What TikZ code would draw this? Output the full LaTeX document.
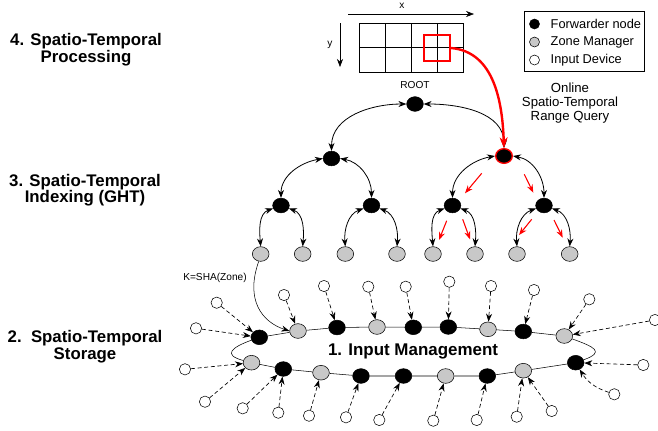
\documentclass[tikz,border=0pt]{standalone}
\usepackage{fontspec}
\setmainfont{Liberation Sans}
\usetikzlibrary{arrows.meta, shapes.geometric, positioning}

\definecolor{zonegray}{RGB}{200,200,200}

\begin{document}
\begin{tikzpicture}[x=0.75pt, y=-0.75pt,
    >={Stealth[length=6pt, width=4.5pt]},
    fwd/.style={ellipse, draw, fill=black, inner sep=0pt, minimum width=12.5pt, minimum height=11pt},
    zone/.style={fwd, fill=zonegray},
    dev/.style={circle, draw, fill=white, inner sep=0pt, minimum size=8.5pt},
    tlink/.style={<->, line width=0.6pt},
    feed/.style={->, dashed, dash pattern=on 3pt off 2pt, line width=0.5pt},
    qry/.style={->, red, line width=0.8pt},
    layerlab/.style={font=\fontsize{12.6}{12.4}\selectfont\bfseries, align=center},
    tinytxt/.style={font=\fontsize{7.6}{9}\selectfont}]
    \useasboundingbox (0,0) rectangle (658,430);

    % Ebenen
    \node[layerlab] (l4) at (86,49.5) {4. Spatio-Temporal\\Processing};
    \node[layerlab] (l3) at (85,190) {3. Spatio-Temporal\\Indexing (GHT)};
    \node[layerlab] (l2) at (85,346.5) {2.\ \ Spatio-Temporal\\Storage};

    % Raster mit Achsen
    \draw (359,23) rectangle (463,72);
    \foreach \gx in {385,411,437}
        \draw (\gx,23) -- (\gx,72);
    \draw (359,47.5) -- (463,47.5);
    \draw[->] (348,14) -- (474,14);
    \node[tinytxt] (xlab) at (402,6) {x};
    \draw[->] (340,23) -- (340,67);
    \node[tinytxt] (ylab) at (330,45) {y};
    \node[draw=red, line width=1.6pt, minimum size=19.5pt, inner sep=0pt] (win) at (437,48) {};

    % Legende
    \draw (524,11.5) rectangle (644,71.5);
    \node[circle, draw, fill=black, minimum size=7.5pt, inner sep=0pt] (kf) at (534.5,24) {};
    \node[circle, draw, fill=zonegray, minimum size=7.5pt, inner sep=0pt] (kz) at (534.5,42) {};
    \node[circle, draw, fill=white, minimum size=7.5pt, inner sep=0pt] (ki) at (534.5,60) {};
    \node[anchor=west, font=\fontsize{9.6}{11}\selectfont] at (546,24) {Forwarder node};
    \node[anchor=west, font=\fontsize{9.6}{11}\selectfont] at (546,42) {Zone Manager};
    \node[anchor=west, font=\fontsize{9.6}{11}\selectfont] at (546,60) {Input Device};

    % GHT-Baum
    \node[fwd] (root) at (415,104) {};
    \node[tinytxt, above=2pt of root] (rootlab) {ROOT};
    \node[fwd] (a) at (331.5,158.5) {};
    \node[fwd, draw=red, line width=1pt] (b) at (504,156) {};
    \node[fwd] (aa) at (281,205.5) {};
    \node[fwd] (ab) at (371.5,205.5) {};
    \node[fwd] (ba) at (452.5,205.5) {};
    \node[fwd] (bb) at (544,205.5) {};
    \foreach \nm/\px in {aaa/260.7, aab/302.7, aba/345.3, abb/397,
                         baa/433, bab/475, bba/517, bbb/569.7}
        \node[zone] (\nm) at (\px,254) {};

    \draw[tlink] (root.west) to[out=180, in=90] (a.north);
    \draw[tlink] (root.east) to[out=0, in=90] (b.north);
    \foreach \p/\l/\r in {a/aa/ab, b/ba/bb} {
        \draw[tlink] (\p.west) to[out=190, in=90] (\l.north);
        \draw[tlink] (\p.east) to[out=-10, in=90] (\r.north);
    }
    \foreach \p in {aa, ab, ba, bb} {
        \draw[tlink] (\p.200) to[out=200, in=95] (\p a.north);
        \draw[tlink] (\p.-20) to[out=-20, in=85] (\p b.north);
    }

    % Bereichsanfrage
    \draw[->, red, line width=1.8pt, >={Stealth[length=8pt, width=6pt]}] (win.east) to[out=-5, in=92] (b.north);
    \node[align=center, font=\fontsize{9.9}{10.5}\selectfont] (qlab) at (570,103) {Online\\Spatio-Temporal\\Range Query};
    \draw[qry] (481.7,173.3) -- (465,193.3);
    \draw[qry] (524.3,174.3) -- (533.3,192.7);
    \draw[qry] (446.7,220.7) -- (439,240);
    \draw[qry] (462.7,219.3) -- (470,239.3);
    \draw[qry] (531.7,219.3) -- (519,235);
    \draw[qry] (554,220) -- (562.7,237.7);

    % Ring (Input Management)
    \node[fwd]  (t1) at (259.3,337.3) {};
    \node[zone] (t2) at (298,331) {};
    \node[fwd]  (t3) at (337,327.5) {};
    \node[zone] (t4) at (377,327) {};
    \node[fwd]  (t5) at (413.3,327.3) {};
    \node[fwd]  (t6) at (448.3,327) {};
    \node[zone] (t7) at (488,329.3) {};
    \node[fwd]  (t8) at (523.3,331.5) {};
    \node[zone] (t9) at (564.3,336) {};
    \node[zone] (u1) at (251.5,362.7) {};
    \node[fwd]  (u2) at (283.3,369) {};
    \node[zone] (u3) at (321,372.7) {};
    \node[fwd]  (u4) at (361,376) {};
    \node[fwd]  (u5) at (403.5,376) {};
    \node[zone] (u6) at (445.7,376) {};
    \node[fwd]  (u7) at (487.3,376) {};
    \node[zone] (u8) at (523.3,370.7) {};
    \node[fwd]  (u9) at (575.7,362.7) {};
    \draw (t1) -- (t2) -- (t3) -- (t4) -- (t5) -- (t6) -- (t7) -- (t8) -- (t9);
    \draw (u1) -- (u2) -- (u3) -- (u4) -- (u5) -- (u6) -- (u7) -- (u8) -- (u9);
    \draw (t9) to[out=-20, in=20, looseness=2.5] (u9);
    \draw (t1) to[out=200, in=165, looseness=2.5] (u1);
    \node[font=\fontsize{12.7}{14}\selectfont\bfseries] (inlab) at (413,351) {1. Input Management};

    % Hash auf die Zone
    \draw[->] (aaa.255) .. controls (245,300) and (262,322) .. (t2.west);
    \node[tinytxt] (klab) at (215,278) {K=SHA(Zone)};

    % Eingabegeraete
    \foreach \d/\px/\py/\tg in {d1/216.7/302.7/t1, d2/196/328.3/t1, d3/284/295/t2,
            d4/324/286/t3, d5/368.3/286.7/t4, d6/405.7/286.7/t5, d7/449.3/281.7/t6,
            d8/491/286/t7, d9/534/290/t8, d10/589.3/299.3/t9, d11/655/320/t9,
            d12/643.3/365/u9, d14/551.7/411/u8, d15/516.7/416.7/u8,
            d16/476.7/420/u7, d17/433.3/420.7/u6, d18/379.3/420/u5, d19/346/417.3/u4,
            d20/309/415.7/u3, d21/278.3/412.7/u2, d22/242.7/408.3/u2,
            d23/205/401.7/u1, d24/185/369.3/u1} {
        \node[dev] (\d) at (\px,\py) {};
        \draw[feed] (\d) -- (\tg);
    }
    \node[dev] (d13) at (614.3,394.3) {};
    \draw[feed] (d13) to[bend left=20] (u9);

\end{tikzpicture}
\end{document}
